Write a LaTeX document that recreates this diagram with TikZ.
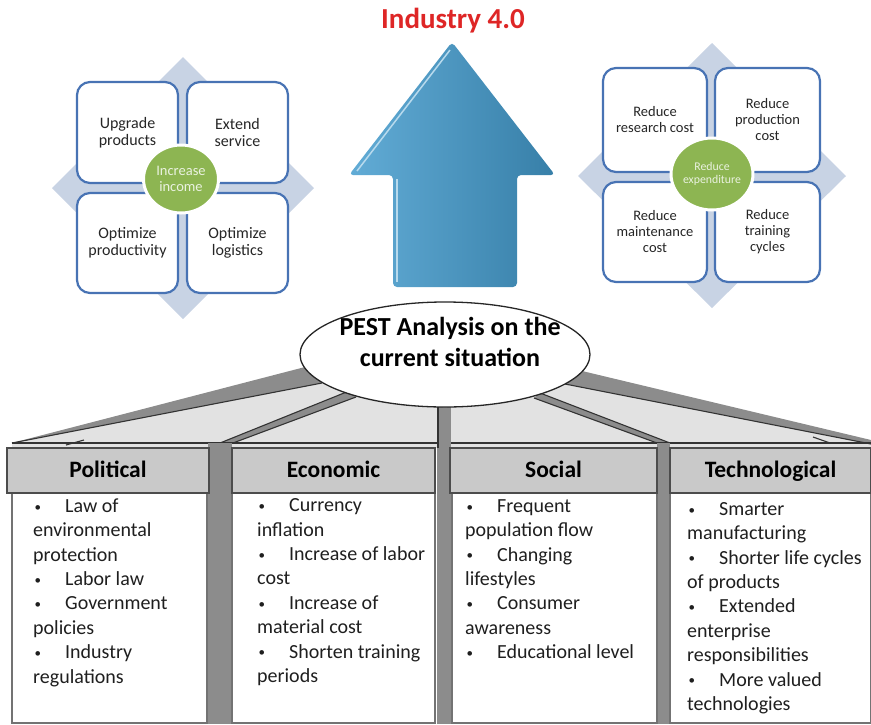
\documentclass[tikz,border=0pt]{standalone}
\usepackage{fontspec}
\setmainfont{Carlito}
\usetikzlibrary{shapes.geometric}

\definecolor{titlered}{RGB}{222,38,38}
\definecolor{arrowlight}{RGB}{98,172,214}
\definecolor{arrowdark}{RGB}{55,127,168}
\definecolor{diamondblue}{RGB}{200,211,228}
\definecolor{boxblue}{RGB}{72,115,180}
\definecolor{leafgreen}{RGB}{141,181,82}
\definecolor{hubtext}{RGB}{234,242,224}
\definecolor{rooflight}{RGB}{226,226,226}
\definecolor{pillardark}{RGB}{140,140,140}
\definecolor{headgrey}{RGB}{201,201,201}

\newcommand{\bul}{\makebox[32pt][l]{\hspace{1.5pt}\raisebox{1.2pt}{\fontsize{13}{13}\selectfont\textbullet}}}

\begin{document}
\begin{tikzpicture}[x=1pt,y=-1pt,
    goal/.style={draw=boxblue,line width=2.2pt,fill=white,rounded corners=13pt,
      align=center,text=black!85,inner sep=2pt},
    hub/.style={ellipse,draw=white,line width=3pt,fill=leafgreen,align=center,
      text=hubtext,inner sep=0pt},
    pesthead/.style={draw=black!70,line width=1.4pt,fill=headgrey,
      font=\fontsize{23.5}{28}\selectfont\bfseries,text height=18pt,text depth=4pt},
    pestbody/.style={draw=black!55,line width=1.2pt,fill=white},
    pestitems/.style={anchor=north west,inner sep=0pt,align=left,text=black!88,
      font=\fontsize{20}{24.4}\selectfont},
    spoke/.style={draw=black!80,line width=1.1pt}]
  \useasboundingbox (0,0) rectangle (871,724);

  % Title and arrow
  \node[anchor=base,text=titlered,font=\fontsize{29}{34}\selectfont\bfseries]
    (title) at (453,28) {Industry 4.0};
  \shade[left color=arrowlight,right color=arrowdark,rounded corners=4pt]
    (452,42) -- (555,175) -- (517,175) -- (517,287) -- (393,287)
    -- (393,175) -- (349,175) -- cycle;
  \draw[white!55!arrowlight,line width=1.5pt] (357,171) -- (450,50);
  \draw[white!55!arrowlight,line width=1.5pt] (397,179) -- (397,282);

  % Income side
  \fill[diamondblue] (183,57) -- (314,188) -- (183,319) -- (52,188) -- cycle;
  \begin{scope}[font=\fontsize{16}{17.5}\selectfont]
    \node[goal,minimum width=101,minimum height=101] (upgrade) at (127.5,132.5) {Upgrade\\products};
    \node[goal,minimum width=101,minimum height=101] (extend) at (237.5,132.5) {Extend\\service};
    \node[goal,minimum width=101,minimum height=100] (optprod) at (127.5,243) {Optimize\\productivity};
    \node[goal,minimum width=101,minimum height=100] (optlog) at (237.5,243) {Optimize\\logistics};
  \end{scope}
  \node[hub,minimum width=75,minimum height=68,font=\fontsize{14.5}{16}\selectfont]
    (income) at (181,179) {Increase\\income};

  % Expenditure side
  \fill[diamondblue] (712,43) -- (846,176) -- (712,308) -- (578,176) -- cycle;
  \begin{scope}[font=\fontsize{14.5}{16}\selectfont]
    \node[goal,minimum width=104,minimum height=104] (research) at (655,120) {Reduce\\research cost};
    \node[goal,minimum width=105,minimum height=104] (production) at (767.5,120) {Reduce\\production\\cost};
    \node[goal,minimum width=104,minimum height=100] (maintenance) at (655,232) {Reduce\\maintenance\\cost};
    \node[goal,minimum width=105,minimum height=100] (training) at (767.5,232) {Reduce\\training\\cycles};
  \end{scope}
  \node[hub,minimum width=78,minimum height=72,font=\fontsize{11.8}{13}\selectfont]
    (expenditure) at (712,174) {Reduce\\expenditure};

  % Roof
  \fill[rooflight] (12,443) -- (305,368) -- (582,371) -- (871,443) -- (871,448) -- (12,448) -- cycle;
  \fill[pillardark] (12,443) -- (305,367) -- (322,383) -- cycle;
  \draw[spoke] (12,443) -- (322,383);
  \fill[pillardark] (871,440) -- (582,371) -- (565,384) -- (871,444) -- cycle;
  \draw[spoke] (871,444) -- (565,384);
  \fill[pillardark] (220,443) -- (349,391) -- (356,397) -- (233,443) -- cycle;
  \draw[spoke] (220,443) -- (349,391);
  \draw[spoke] (233,443) -- (356,397);
  \fill[pillardark] (540,393) -- (670,443) -- (657,443) -- (534,398) -- cycle;
  \draw[spoke] (540,393) -- (670,443);
  \draw[spoke] (534,398) -- (657,443);
  \draw[spoke] (12,443) -- (871,443);
  \draw[spoke] (66,445) -- (84,440);
  \draw[spoke] (813,437) -- (830,443);

  % Pillars
  \fill[pillardark] (208,443) rectangle (232,724);
  \fill[pillardark] (437,400) rectangle (451,724);
  \fill[pillardark] (657,443) rectangle (670,724);
  \draw[spoke] (438,400) -- (438,448);

  % Columns
  \draw[pestbody] (12,493) rectangle (207,723);
  \draw[pestbody] (232,493) rectangle (435,723);
  \draw[pestbody] (452,493) rectangle (657,723);
  \draw[pestbody] (670,493) rectangle (871,723);
  \node[pesthead,minimum width=202,minimum height=45] (political) at (108,470.5) {Political};
  \node[pesthead,minimum width=203,minimum height=45] (economic) at (333.5,470.5) {Economic};
  \node[pesthead,minimum width=207,minimum height=45] (social) at (553.5,470.5) {Social};
  \node[pesthead,minimum width=201,minimum height=45] (technological) at (770.5,470.5) {Technological};

  \node[pestitems] (politems) at (33,495) {\strut\bul Law of\\environmental\\protection\\\bul Labor law\\\bul Government\\policies\\\bul Industry\\regulations};
  \node[pestitems] (ecoitems) at (257,494.5) {\strut\bul Currency\\inflation\\\bul Increase of labor\\cost\\\bul Increase of\\material cost\\\bul Shorten training\\periods};
  \node[pestitems] (socitems) at (465,495) {\strut\bul Frequent\\population flow\\\bul Changing\\lifestyles\\\bul Consumer\\awareness\\\bul Educational level};
  \node[pestitems] (tecitems) at (687,498) {\strut\bul Smarter\\manufacturing\\\bul Shorter life cycles\\of products\\\bul Extended\\enterprise\\responsibilities\\\bul More valued\\technologies};

  % Centre ellipse
  \node[ellipse,draw=black!85,line width=1.3pt,fill=white,minimum width=290,minimum height=105]
    (pest) at (445,354.5) {};
  \node[align=center,font=\fontsize{26}{31.7}\selectfont\bfseries]
    (pestlabel) at (450,342) {PEST Analysis on the\\current situation};
\end{tikzpicture}
\end{document}
